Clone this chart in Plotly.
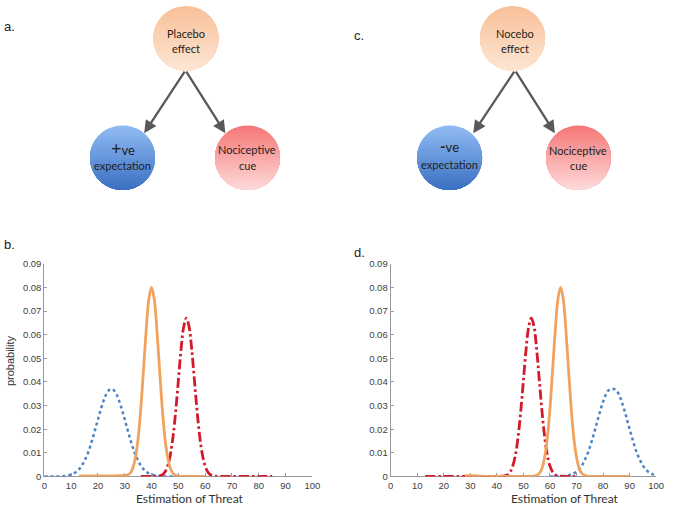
import math

import plotly.graph_objects as go

W, H = 677, 511

# ---- data (probability per estimate of threat) ----
# panel b: placebo
b_blue_x = [0, 2, 4, 6, 7, 8, 9, 10, 11, 12, 13, 14, 15, 16, 17, 18, 19, 20, 21, 22, 23, 24, 25,
            26, 27, 28, 29, 30, 31, 32, 33, 34, 35, 36, 37, 38, 39, 40, 41, 42, 43, 44, 46, 48, 50]
b_blue_y = [0, 0, 0, 0, 0.0001, 0.0003, 0.0005, 0.0008, 0.0013, 0.0020, 0.0031, 0.0046, 0.0067,
            0.0092, 0.0123, 0.0160, 0.0200, 0.0241, 0.0281, 0.0317, 0.0346, 0.0364, 0.0370,
            0.0364, 0.0346, 0.0317, 0.0281, 0.0241, 0.0200, 0.0160, 0.0123, 0.0092, 0.0067,
            0.0046, 0.0031, 0.0020, 0.0013, 0.0008, 0.0005, 0.0003, 0.0001, 0, 0, 0, 0]

b_orange_x = [13, 16, 20, 24, 28, 30, 31, 32, 33, 34, 35, 36, 37, 38, 39, 40, 41, 42, 43, 44,
              45, 46, 47, 48, 49, 50, 52, 55, 60]
b_orange_y = [0.0002, 0.0002, 0.0002, 0.0002, 0.0003, 0.0004, 0.0006, 0.0013, 0.0035, 0.0081,
              0.0162, 0.0288, 0.0451, 0.0620, 0.0751, 0.0800, 0.0751, 0.0620, 0.0451, 0.0288,
              0.0162, 0.0081, 0.0035, 0.0013, 0.0005, 0.0001, 0, 0, 0]

b_red_x = [36, 40, 42, 43, 44, 45, 46, 47, 48, 49, 50, 51, 52, 53, 54, 55, 56, 57, 58, 59, 60,
           61, 62, 63, 64, 66, 70, 75, 80, 85]
b_red_y = [0, 0, 0.0001, 0.0003, 0.0007, 0.0019, 0.0044, 0.0091, 0.0167, 0.0275, 0.0406,
           0.0537, 0.0634, 0.0670, 0.0634, 0.0537, 0.0406, 0.0275, 0.0167, 0.0091, 0.0044,
           0.0019, 0.0007, 0.0003, 0.0001, 0, 0, 0, 0, 0]

# panel d: nocebo
d_red_x = [13, 20, 25, 30, 36, 40, 42, 43, 44, 45, 46, 47, 48, 49, 50, 51, 52, 53, 54, 55, 56,
           57, 58, 59, 60, 61, 62, 63, 64, 66, 70]
d_red_y = [0, 0, 0, 0, 0, 0, 0.0001, 0.0003, 0.0007, 0.0019, 0.0044, 0.0091, 0.0167, 0.0275,
           0.0406, 0.0537, 0.0634, 0.0670, 0.0634, 0.0537, 0.0406, 0.0275, 0.0167, 0.0091,
           0.0044, 0.0019, 0.0007, 0.0003, 0.0001, 0, 0]

d_orange_x = [28, 31, 33, 36, 40, 45, 50, 54, 55, 56, 57, 58, 59, 60, 61, 62, 63, 64, 65, 66,
              67, 68, 69, 70, 71, 72, 73, 74, 76, 80, 85, 90]
d_orange_y = [0.0003, 0.0003, 0.0002, 0, 0, 0, 0, 0.0001, 0.0005, 0.0013, 0.0035, 0.0081,
              0.0162, 0.0288, 0.0451, 0.0620, 0.0751, 0.0800, 0.0751, 0.0620, 0.0451, 0.0288,
              0.0162, 0.0081, 0.0035, 0.0013, 0.0005, 0.0001, 0, 0, 0, 0]

d_blue_x = [60, 62, 64, 66, 68, 69, 70, 71, 72, 73, 74, 75, 76, 77, 78, 79, 80, 81, 82, 83, 84,
            85, 86, 87, 88, 89, 90, 91, 92, 93, 94, 95, 96, 97, 98, 99, 100]
d_blue_y = [0, 0, 0.0001, 0.0003, 0.0008, 0.0013, 0.0020, 0.0031, 0.0046, 0.0067, 0.0092,
            0.0123, 0.0160, 0.0200, 0.0241, 0.0281, 0.0317, 0.0346, 0.0364, 0.0370, 0.0370,
            0.0364, 0.0346, 0.0317, 0.0281, 0.0241, 0.0200, 0.0160, 0.0123, 0.0092, 0.0067,
            0.0046, 0.0031, 0.0020, 0.0013, 0.0008, 0.0005]

x_ticks = [0, 10, 20, 30, 40, 50, 60, 70, 80, 90, 100]
y_ticks = [0, 0.01, 0.02, 0.03, 0.04, 0.05, 0.06, 0.07, 0.08, 0.09]
y_tick_text = ["0", "0.01", "0.02", "0.03", "0.04", "0.05", "0.06", "0.07", "0.08", "0.09"]

BLUE = "#4f84c4"
ORANGE = "#f2a25f"
RED = "#d11a2a"
RED_DASH = "10px,3px,2.5px,3px"


def px(x):
    return x / W


def py(y):
    return 1 - y / H


def mix(c1, c2, t):
    a = [int(c1[i:i + 2], 16) for i in (1, 3, 5)]
    b = [int(c2[i:i + 2], 16) for i in (1, 3, 5)]
    return "rgb(%d,%d,%d)" % tuple(round(a[k] + (b[k] - a[k]) * t) for k in range(3))


def gradient_circle(cx, cy, r, top, bottom, n=24):
    # stacked circular segments, each one covering from its chord down to the bottom
    shapes = []
    for i in range(n):
        y0 = cy - r + 2 * r * i / n
        a0 = math.asin(max(-1.0, min(1.0, (y0 - cy) / r)))
        pts = []
        for k in range(41):
            a = a0 + (math.pi - 2 * a0) * k / 40
            pts.append("%.5f,%.5f" % (px(cx + r * math.cos(a)), py(cy + r * math.sin(a))))
        shapes.append(dict(type="path", xref="paper", yref="paper", layer="below",
                           path="M " + " L ".join(pts) + " Z",
                           fillcolor=mix(top, bottom, (i + 0.5) / n), line=dict(width=0)))
    return shapes


def label(x, y, text, size=11, family="Lato", color="#222222", **kw):
    return dict(x=px(x), y=py(y), xref="paper", yref="paper", text=text, showarrow=False,
                xanchor="center", yanchor="middle",
                font=dict(family=family, size=size, color=color), **kw)


def arrow(x0, y0, x1, y1):
    return dict(x=px(x1), y=py(y1), xref="paper", yref="paper", ax=x0 - x1, ay=y0 - y1,
                axref="pixel", ayref="pixel", text="", showarrow=True, arrowhead=2,
                arrowsize=1.1, arrowwidth=2.3, arrowcolor="#595959", standoff=0)


def curve(x, y, color, dash, axis):
    return go.Scatter(x=x, y=y, mode="lines", line_shape="spline",
                      line=dict(color=color, width=2.8 if dash != "dot" else 2.5, dash=dash),
                      xaxis="x" + axis, yaxis="y" + axis, hoverinfo="skip")


fig = go.Figure()
fig.add_trace(curve(b_blue_x, b_blue_y, BLUE, "dot", ""))
fig.add_trace(curve(b_red_x, b_red_y, RED, RED_DASH, ""))
fig.add_trace(curve(b_orange_x, b_orange_y, ORANGE, "solid", ""))
fig.add_trace(curve(d_blue_x, d_blue_y, BLUE, "dot", "2"))
fig.add_trace(curve(d_red_x, d_red_y, RED, RED_DASH, "2"))
fig.add_trace(curve(d_orange_x, d_orange_y, ORANGE, "solid", "2"))

tick_font = dict(family="Liberation Sans", size=9.5, color="#404040")
xax = dict(range=[0, 100], tickvals=x_ticks, ticks="inside", ticklen=3, tickcolor="#999999",
           showline=True, linecolor="#999999", linewidth=1, showgrid=False, zeroline=False,
           tickfont=tick_font, layer="below traces", fixedrange=True)
yax = dict(range=[0, 0.09], tickvals=y_ticks, ticktext=y_tick_text, ticks="inside", ticklen=3,
           tickcolor="#999999", showline=True, linecolor="#999999", linewidth=1,
           showgrid=False, zeroline=False, tickfont=tick_font, layer="below traces",
           domain=[0.0591, 0.4843], fixedrange=True)

shapes = []
# panel a
shapes += gradient_circle(186, 33, 33, "#f8c098", "#fde6d4")
shapes += gradient_circle(121.5, 155, 33, "#92bcf4", "#3a70c2")
shapes += gradient_circle(248.5, 155, 33, "#f67676", "#fddada")
# panel c
shapes += gradient_circle(518, 33, 33, "#f8c098", "#fde6d4")
shapes += gradient_circle(454, 155, 33, "#92bcf4", "#3a70c2")
shapes += gradient_circle(585, 155, 33, "#f67676", "#fddada")

annotations = [
    arrow(185, 67, 143.5, 130), arrow(186, 67, 226, 130),
    arrow(520, 67, 478, 130), arrow(521, 67, 561, 130),
    label(186, 28, "Placebo"), label(186, 43, "effect"),
    label(121.5, 145, "<span style='font-size:18px'>+</span>ve", size=13),
    label(121.5, 163, "expectation"),
    label(248.5, 147, "Nociceptive"), label(248.5, 163, "cue"),
    label(520, 28, "Nocebo"), label(520, 43, "effect"),
    label(454, 143, "<span style='font-size:15px'><b>-</b></span>ve", size=13),
    label(454, 162, "expectation"),
    label(585, 148, "Nociceptive"), label(585, 163, "cue"),
    label(7, 21, "a.", size=13, family="Liberation Sans"),
    label(362, 30, "c.", size=13, family="Liberation Sans"),
    label(7, 244, "b.", size=13, family="Liberation Sans"),
    label(362, 252, "d.", size=13, family="Liberation Sans"),
    label(190, 503, "Estimation of Threat", size=12, color="#333333"),
    label(571, 503, "Estimation of Threat", size=12, color="#333333"),
    label(7, 362, "probability", size=11, family="Liberation Sans", color="#333333",
          textangle=-90),
]

fig.update_layout(
    width=W, height=H,
    margin=dict(l=0, r=0, t=0, b=0),
    paper_bgcolor="white", plot_bgcolor="white",
    showlegend=False,
    xaxis=dict(xax, domain=[42 / W, 314.5 / W], anchor="y"),
    yaxis=dict(yax, anchor="x"),
    xaxis2=dict(xax, domain=[394 / W, 664 / W], anchor="y2"),
    yaxis2=dict(yax, anchor="x2"),
    shapes=shapes,
    annotations=annotations,
)

# the page body has a default 8px margin; drop it so the figure fills the window
fig.write_html("out.html", config={"displayModeBar": False},
               post_script="document.body.style.margin='0';document.body.style.overflow='hidden';")
